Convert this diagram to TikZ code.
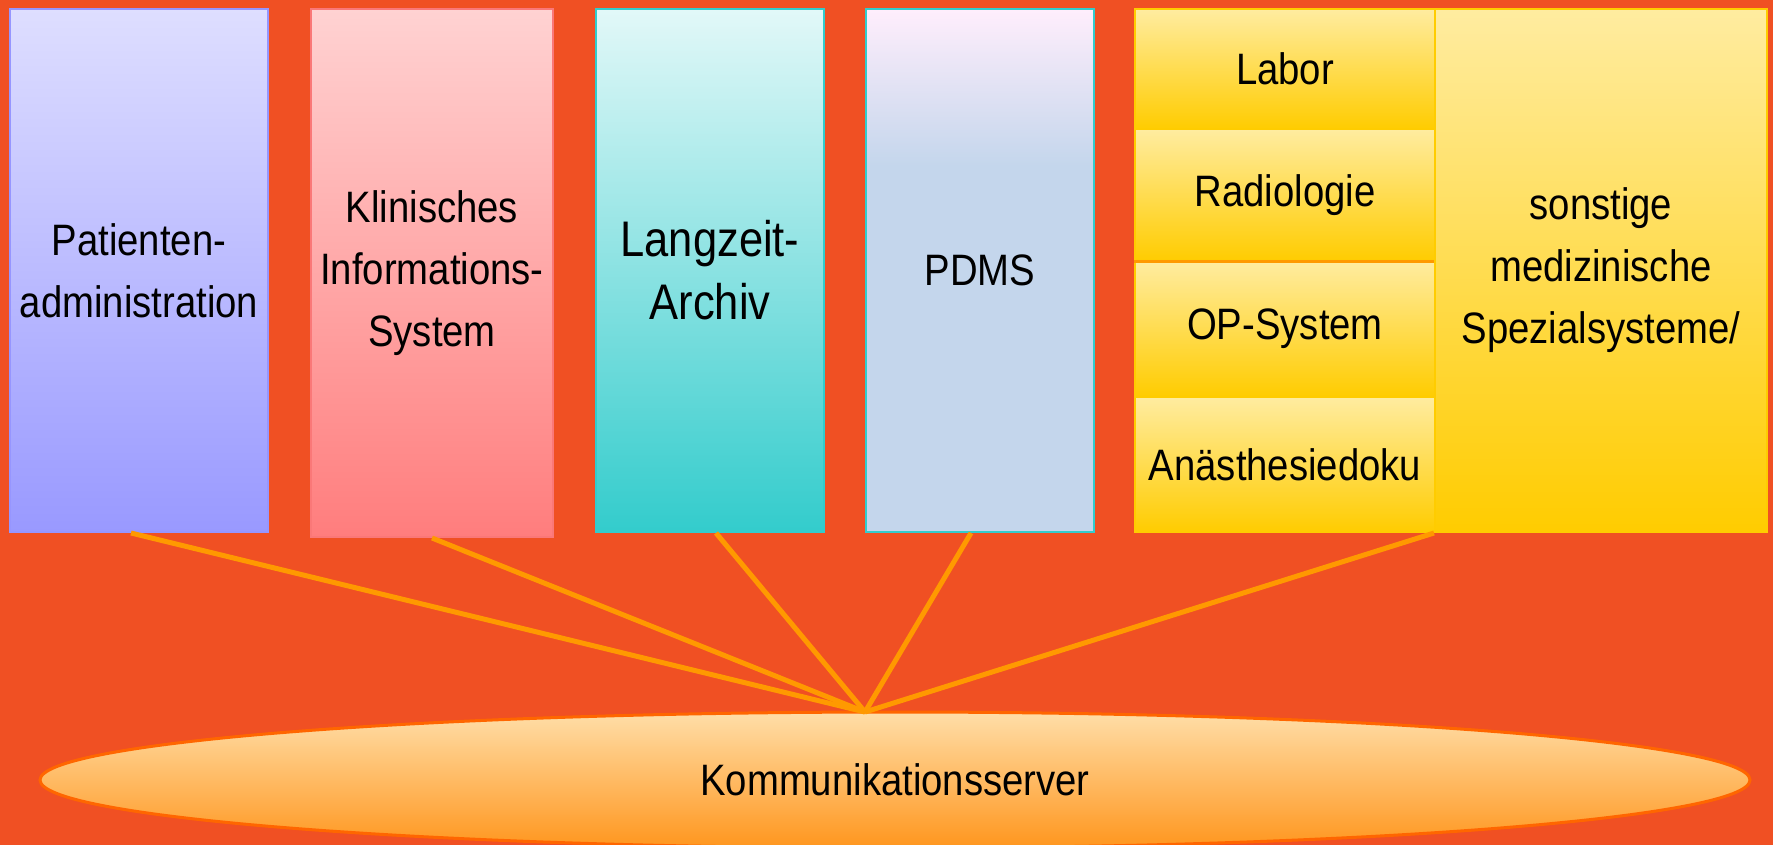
\documentclass[tikz,border=0pt]{standalone}
\usepackage{fontspec}
\setmainfont{Liberation Sans}[FakeStretch=0.87]
\usetikzlibrary{shapes.geometric}

\definecolor{bgred}{RGB}{240,80,35}
\definecolor{linkorange}{RGB}{255,153,0}
\definecolor{sunyellow}{RGB}{255,204,0}
\definecolor{paleyellow}{RGB}{255,236,160}
\definecolor{pdmsblue}{RGB}{196,214,236}
\definecolor{pdmspink}{RGB}{255,238,252}
% PDMS fades from pink into blue over its upper third
\pgfdeclareverticalshading{pdmsfade}{100bp}{color(0bp)=(pdmsblue); color(25bp)=(pdmsblue);
  color(60bp)=(pdmsblue); color(75bp)=(pdmspink); color(100bp)=(pdmspink)}

\begin{document}
\begin{tikzpicture}[x=0.5pt, y=-0.5pt,
  every node/.style={font=\fontsize{22}{31}\selectfont, align=center, inner sep=0pt},
  sysbox/.style={anchor=north west, line width=1pt},
  subsys/.style={sysbox, draw=sunyellow, top color=paleyellow, bottom color=sunyellow,
    minimum width=150pt},
  link/.style={draw=linkorange, line width=2.5pt}]

  % background
  \fill[bgred] (0,0) rectangle (1773,845);
  \useasboundingbox (0,0) rectangle (1773,845);

  \node[sysbox, draw={rgb,255:red,150;green,150;blue,255}, top color={rgb,255:red,222;green,222;blue,255},
    bottom color={rgb,255:red,153;green,153;blue,255}, minimum width=129pt, minimum height=261.5pt]
    (padm) at (9,8) {Patienten-\\administration};
  \node[sysbox, draw={rgb,255:red,250;green,120;blue,120}, top color={rgb,255:red,255;green,210;blue,210},
    bottom color={rgb,255:red,255;green,125;blue,125}, minimum width=121pt, minimum height=264pt]
    (kis) at (310,8) {Klinisches\\Informations-\\System};
  \node[sysbox, draw={rgb,255:red,51;green,204;blue,204}, top color={rgb,255:red,226;green,248;blue,248},
    bottom color={rgb,255:red,51;green,204;blue,204}, minimum width=114pt, minimum height=261.5pt,
    font=\fontsize{25}{31.5}\selectfont]
    (archiv) at (595,8) {Langzeit-\\Archiv};
  \node[sysbox, draw={rgb,255:red,51;green,204;blue,204}, shade, shading=pdmsfade,
    minimum width=114pt, minimum height=261.5pt]
    (pdms) at (865,8) {PDMS};

  % Spezialsysteme
  \node[subsys, minimum height=60pt] (labor) at (1134,8) {Labor};
  \node[subsys, minimum height=66pt] (radio) at (1134,128) {Radiologie};
  \node[subsys, minimum height=68pt] (op) at (1134,260) {OP-System};
  \node[subsys, minimum height=67.5pt] (anae) at (1134,396) {Anästhesiedoku};
  \draw[linkorange, line width=1.5pt] (radio.south west) -- (radio.south east);
  \node[sysbox, draw=sunyellow, top color=paleyellow, bottom color=sunyellow,
    minimum width=166pt, minimum height=261.5pt]
    (spezial) at (1434,8) {sonstige\\medizinische\\Spezialsysteme/};

  \node[ellipse, draw={rgb,255:red,255;green,102;blue,0}, line width=1.5pt,
    top color={rgb,255:red,255;green,222;blue,168}, bottom color={rgb,255:red,255;green,150;blue,30},
    minimum width=855pt, minimum height=68pt] (kserv) at (895,780) {Kommunikationsserver};
  \coordinate (hub) at (865,712);

  \draw[link] ([xshift=-4pt]padm.south) -- (hub);
  \draw[link] (kis.south) -- (hub);
  \draw[link] ([xshift=3pt]archiv.south) -- (hub);
  \draw[link] ([xshift=-4.5pt]pdms.south) -- (hub);
  \draw[link] (spezial.south west) -- (hub);
\end{tikzpicture}
\end{document}
